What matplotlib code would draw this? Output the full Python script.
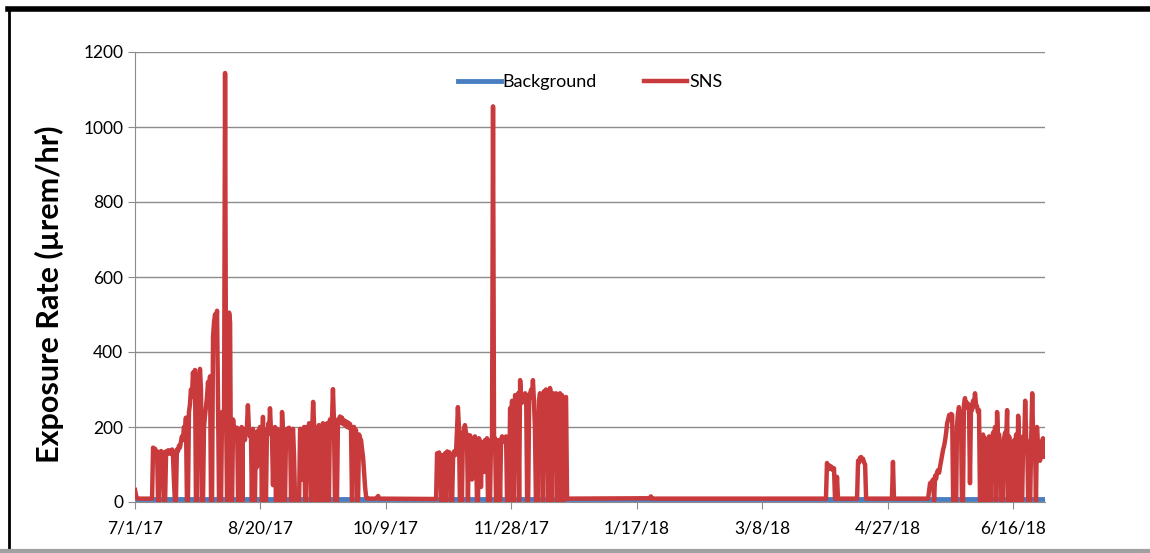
import matplotlib
matplotlib.use("Agg")
import matplotlib.pyplot as plt
from matplotlib.lines import Line2D

# ---- data (days since 7/1/17, exposure rate in µrem/hr) ----
tick_days = [0, 50, 100, 150, 200, 250, 300, 350]
tick_labels = ["7/1/17", "8/20/17", "10/9/17", "11/28/17", "1/17/18", "3/8/18", "4/27/18", "6/16/18"]
y_ticks = [0, 200, 400, 600, 800, 1000, 1200]

bg_days = [0, 50, 100, 150, 200, 250, 300, 362.7]
bg_vals = [7, 7, 7, 7, 7, 7, 7, 7]

# SNS series in pieces
sns_days_a = [0.0, 0.4, 0.8, 2.0, 6.8]
sns_vals_a = [32, 18, 10, 9, 9]

sns_days_b = [7.2, 7.6, 8.0, 8.4, 8.8, 9.2, 9.6, 10.0, 10.4, 10.8, 11.2, 11.6, 12.0, 12.4, 12.8, 13.2, 13.6,
              14.0, 14.4, 14.8, 15.1, 15.5, 15.9, 16.3, 16.7, 17.1, 17.5, 17.9, 18.3, 18.7, 19.1, 19.5, 19.9,
              20.3, 20.7, 21.1, 21.5, 21.9, 22.3, 22.7, 23.1, 23.5, 23.9, 24.3, 24.7, 25.1, 25.5, 25.9, 26.3,
              26.7, 27.1, 27.5, 27.9, 28.3, 28.7, 29.1, 29.5, 29.9, 30.3, 30.7, 31.1, 31.5, 31.9, 32.3, 32.7,
              33.1, 33.5, 34.3, 34.7, 35.1, 35.5, 35.9, 36.3, 36.7, 37.1, 37.5, 37.9, 38.3, 38.7]
sns_vals_b = [145, 138, 142, 128, 135, 3, 3, 128, 136, 126, 132, 3, 3, 135, 128, 138, 130,
              137, 128, 140, 132, 60, 3, 3, 140, 135, 150, 145, 160, 175, 165, 200, 185,
              225, 3, 3, 240, 260, 300, 280, 345, 320, 352, 3, 3, 340, 300, 355, 300,
              3, 3, 200, 230, 255, 280, 320, 290, 335, 3, 3, 440, 480, 500, 470, 510,
              250, 3, 3, 240, 220, 235, 1144, 240, 3, 3, 505, 480, 3, 3]

sns_days_c = [39.1, 39.4, 39.7, 39.9, 40.2, 40.5, 40.7, 41.1, 41.5, 41.9, 42.2, 42.5, 42.8, 43.0, 43.3, 43.6,
              43.8, 44.2, 44.6, 45.0, 45.4, 45.8, 46.2, 46.6, 47.0, 47.4, 47.8, 48.2, 48.6, 49.0, 49.4, 49.8,
              50.2, 50.6, 51.0, 51.4, 52.2, 52.6, 52.9, 53.2, 53.5, 53.8, 54.2, 54.6, 55.0, 55.4, 55.8, 56.2,
              56.6, 57.0, 57.4, 57.8, 58.2, 58.6, 59.0, 59.4, 59.8, 60.2, 60.6, 61.0, 61.4, 61.8, 62.2, 62.6,
              63.0, 63.4, 63.8, 65.4, 65.8, 66.2, 66.6, 67.0, 67.4, 67.8, 68.2, 68.6, 69.0, 69.4, 69.8, 70.2,
              70.6, 71.0, 71.4, 71.8, 72.1, 72.9, 73.3, 73.7, 74.1, 74.5, 74.9, 75.3, 75.7, 76.1, 76.5, 76.9,
              77.3, 77.7, 78.1, 78.5, 78.9, 79.3, 79.7, 80.1, 80.5, 80.9, 81.3, 81.7, 82.1, 82.5, 82.9, 83.3,
              83.7, 84.1, 84.5, 84.9, 85.3, 85.7, 86.1, 86.5, 86.9, 87.3, 87.7, 88.1, 88.5, 88.9, 89.3, 89.7,
              90.1, 90.5, 90.9, 91.3, 91.7, 92.1, 92.5]
sns_vals_c = [220, 185, 200, 175, 195, 180, 198, 3, 3, 190, 175, 200, 3, 195, 170, 185,
              165, 190, 200, 258, 195, 175, 190, 3, 195, 3, 3, 185, 93, 190, 175, 200,
              185, 3, 227, 3, 3, 195, 180, 210, 190, 250, 190, 175, 45, 185, 200, 3,
              195, 175, 190, 3, 3, 240, 190, 3, 3, 185, 195, 178, 198, 185, 3, 180,
              195, 120, 3, 3, 195, 185, 60, 190, 200, 3, 3, 200, 190, 210, 195, 3,
              190, 267, 205, 190, 3, 3, 205, 195, 3, 3, 210, 195, 3, 200, 210, 3,
              3, 220, 205, 215, 301, 215, 3, 3, 3, 220, 210, 228, 212, 225, 208, 218,
              205, 215, 200, 212, 198, 208, 195, 3, 192, 200, 185, 192, 3, 3, 180, 170,
              165, 140, 120, 80, 40, 15, 9]

sns_days_d = [95.7, 96.5, 96.9, 97.3, 117.6, 120.0]
sns_vals_d = [9, 12, 16, 9, 8, 8]

sns_days_e = [120.4, 120.8, 121.2, 121.6, 122.0, 122.4, 122.8, 123.2, 123.6, 124.0, 124.4, 124.8, 125.2,
              125.6, 126.0, 126.4, 126.8, 127.2, 127.6, 128.0, 128.4, 128.7, 129.1, 129.5, 130.3, 130.7,
              131.1, 131.5, 131.9, 132.3, 132.7, 133.1, 133.5, 133.9, 134.3, 134.7, 135.1, 135.5, 135.9,
              136.3, 136.7, 137.1, 137.5, 137.9, 138.3, 138.7, 139.1, 139.5, 139.9, 140.3, 140.7, 141.5,
              141.9, 142.3, 142.7, 143.1, 143.5, 143.9, 144.3, 144.7, 145.1, 145.5, 145.9, 146.3, 146.7,
              147.1, 147.5, 147.9, 148.3, 149.1, 149.5, 149.9, 150.3, 150.7, 151.1, 151.5, 151.9, 152.3,
              152.7, 153.1, 153.5, 153.9, 154.3, 154.7, 155.1, 155.5, 155.9, 156.3, 156.7, 157.1, 157.5,
              157.9, 158.3, 158.6, 159.0, 159.4, 159.8, 160.6, 161.0, 161.4, 161.8, 162.2, 162.6, 163.0,
              163.4, 163.8, 164.2, 164.6, 165.0, 165.4, 165.8, 166.2, 166.6, 167.0, 167.4, 167.8, 168.2,
              169.0, 169.4, 169.8, 170.2, 170.6, 171.0, 171.4, 171.8, 172.2]
sns_vals_e = [130, 118, 132, 120, 3, 3, 125, 115, 130, 3, 135, 122, 133,
              128, 3, 3, 125, 135, 125, 140, 200, 253, 200, 3, 3, 180,
              195, 205, 185, 180, 3, 165, 178, 170, 60, 170, 160, 175, 150,
              3, 3, 170, 158, 40, 160, 140, 80, 165, 155, 170, 3, 3,
              165, 158, 1055, 160, 170, 3, 3, 165, 158, 3, 165, 175, 160,
              168, 160, 175, 3, 3, 250, 230, 270, 3, 3, 285, 265, 280,
              290, 3, 325, 280, 265, 282, 270, 290, 285, 3, 3, 270, 290,
              300, 280, 325, 270, 200, 3, 3, 270, 290, 275, 288, 3, 295,
              285, 300, 292, 3, 3, 304, 285, 3, 290, 270, 130, 290, 3,
              3, 290, 270, 285, 3, 3, 277, 280, 9]

sns_days_f = [205.3, 205.6, 206.0, 225.2, 257.1, 275.4, 275.8, 276.2, 276.6, 277.0, 277.4, 277.8, 278.2,
              278.6, 279.0, 279.4, 279.8, 280.2, 287.8, 288.2, 288.6, 289.0, 289.4, 289.8, 290.2, 290.6,
              291.0, 291.4, 301.7, 302.1, 302.5, 316.1]
sns_vals_f = [10, 15, 9, 9, 9, 9, 104, 92, 98, 88, 95, 92, 85,
              90, 9, 9, 67, 9, 9, 110, 105, 118, 120, 112, 115, 105,
              100, 9, 9, 107, 9, 9]

sns_days_g = [316.9, 317.3, 317.7, 318.1, 318.5, 318.9, 319.3, 319.7, 320.1, 320.5, 320.9, 321.3, 321.7,
              322.1, 322.5, 322.9, 323.3, 323.7, 324.1, 324.5, 324.9, 325.3, 325.7, 326.1, 327.3, 327.6,
              328.0, 328.4, 328.8, 329.2, 329.6, 330.0, 330.4, 330.8, 331.2, 331.6, 332.0, 332.4, 332.8,
              333.2, 333.6, 334.0, 334.4, 334.8, 335.2, 335.6, 336.0, 336.4, 336.8, 337.6, 338.0, 338.4,
              338.8, 339.2, 340.0, 340.4, 340.8, 341.2, 341.6, 342.0, 342.4, 342.8, 343.2, 343.6, 344.0,
              344.4, 344.8, 345.2, 346.0, 346.4, 346.8, 347.2, 347.6, 348.0, 348.4, 348.8, 349.2, 350.0,
              350.4, 350.8, 351.2, 351.6, 352.0, 352.4, 352.8, 353.2, 353.6, 354.0, 354.4, 354.8, 355.2,
              355.6, 356.0, 356.8, 357.2, 357.6, 358.0, 358.4, 358.8, 359.1, 359.5, 359.9, 360.3, 360.7,
              361.1, 361.5, 361.9, 362.3, 362.7]
sns_vals_g = [50, 40, 55, 60, 3, 70, 62, 80, 85, 78, 95, 110, 125,
              140, 150, 165, 185, 210, 220, 232, 225, 235, 232, 3, 3, 200,
              235, 253, 235, 240, 3, 3, 260, 277, 255, 265, 250, 260, 50,
              255, 245, 270, 255, 290, 260, 255, 240, 245, 3, 3, 180, 160,
              170, 3, 3, 175, 155, 3, 165, 185, 160, 200, 3, 240, 170,
              180, 150, 3, 3, 170, 185, 160, 245, 3, 175, 140, 3, 3,
              165, 150, 180, 3, 230, 160, 140, 3, 3, 175, 150, 270, 170,
              160, 3, 3, 170, 290, 165, 150, 120, 3, 200, 150, 160, 110,
              130, 160, 170, 120, 160]

sns_days = sns_days_a + sns_days_b + sns_days_c + sns_days_d + sns_days_e + sns_days_f + sns_days_g
sns_vals = sns_vals_a + sns_vals_b + sns_vals_c + sns_vals_d + sns_vals_e + sns_vals_f + sns_vals_g

# ---- figure ----
plt.rcParams['font.family'] = ['Lato', 'DejaVu Sans']
fig = plt.figure(figsize=(11.5, 5.53), dpi=100)
ax = fig.add_axes([135/1150, 1 - 502/553, 910/1150, 450/553])

ax.plot(bg_days, bg_vals, color='#4A7EC2', lw=3.5, label='Background', zorder=2)
ax.plot(sns_days, sns_vals, color='#C93A3C', lw=3.2, label='SNS', zorder=3)

ax.set_xlim(0, 362.7)
ax.set_ylim(0, 1200)
ax.set_xticks(tick_days)
ax.set_xticklabels(tick_labels, fontsize=12.5)
ax.set_yticks(y_ticks)
ax.set_yticklabels([str(v) for v in y_ticks], fontsize=12.5)
ax.yaxis.grid(True, color='#8c8c8c', lw=1)
ax.set_axisbelow(True)
for s in ['top', 'right']:
    ax.spines[s].set_visible(False)
for s in ['left', 'bottom']:
    ax.spines[s].set_color('#8c8c8c')
ax.tick_params(axis='both', colors='#8c8c8c', labelcolor='black', length=5)
ax.tick_params(axis='x', pad=8)
ax.set_ylabel('Exposure Rate (µrem/hr)', fontsize=22, fontweight='bold')
ax.yaxis.set_label_coords(-0.078, 0.462)

ax.legend(loc='center', bbox_to_anchor=(0.5, 0.933), ncol=2, frameon=False, fontsize=13,
          handlelength=2.4, handletextpad=0.1, columnspacing=2.6)

# frame of the picture
fig.add_artist(Line2D([8/1150, 1], [1 - 9/553, 1 - 9/553], color='black', lw=4))
fig.add_artist(Line2D([9/1150, 9/1150], [0, 1 - 9/553], color='black', lw=2))
fig.add_artist(Line2D([0, 1], [2/553, 2/553], color='#a0a0a0', lw=3))

fig.savefig('out.png', dpi=100)
